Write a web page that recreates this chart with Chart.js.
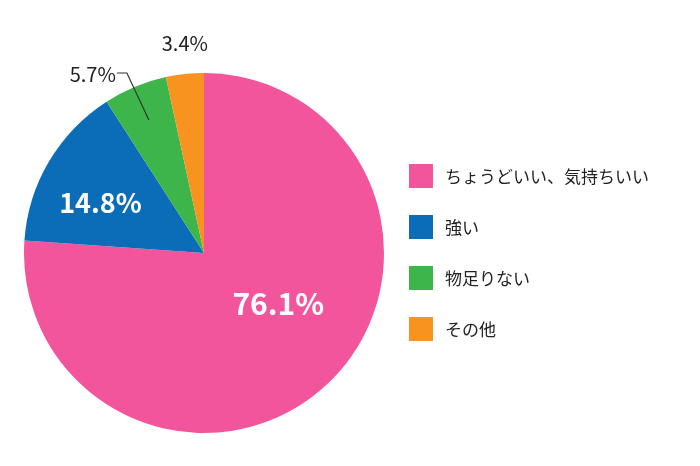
<!DOCTYPE html>
<html><head><meta charset="utf-8">
<script src="https://cdn.jsdelivr.net/npm/chart.js@4"></script>
<style>body{margin:0;background:#fff}#wrap{width:700px;height:466px}</style>
</head><body><div id="wrap"><canvas id="pie"></canvas></div>
<script>
const categories = ['ちょうどいい、気持ちいい', '強い', '物足りない', 'その他'];
const shares = [76.1, 14.8, 5.7, 3.4];
const colors = ['#F2559B', '#0B6DB7', '#3DB54A', '#F7931E'];

const FONT = '"Noto Sans CJK JP", "Noto Sans", sans-serif';

// labels on/around the slices and a hand-drawn legend
const decorate = {
    id: 'decorate',
    afterDraw(chart) {
        const ctx = chart.ctx;
        const arcs = chart.getDatasetMeta(0).data;
        const at = (arc, frac, shift) => {
            const a = (arc.startAngle + arc.endAngle) / 2 + (shift || 0);
            const r = arc.outerRadius * frac;
            return [arc.x + Math.cos(a) * r, arc.y + Math.sin(a) * r];
        };
        ctx.save();
        ctx.textAlign = 'center';
        ctx.textBaseline = 'middle';
        ctx.fillStyle = '#fff';
        ctx.font = 'bold 30px ' + FONT;
        let p = at(arcs[0], 0.5, -0.22);
        ctx.fillText(shares[0] + '%', p[0], p[1]);
        ctx.font = 'bold 27px ' + FONT;
        p = at(arcs[1], 0.64, -0.08);
        ctx.fillText(shares[1] + '%', p[0], p[1]);

        ctx.fillStyle = '#222';
        ctx.font = '20px ' + FONT;
        // green: leader line
        p = at(arcs[2], 0.8);
        ctx.strokeStyle = '#333';
        ctx.lineWidth = 1.2;
        ctx.beginPath();
        ctx.moveTo(p[0], p[1]);
        ctx.lineTo(p[0] - 22, 73);
        ctx.lineTo(p[0] - 32, 73);
        ctx.stroke();
        ctx.textAlign = 'right';
        ctx.fillText(shares[2].toFixed(1) + '%', p[0] - 33, 74);
        // orange: above
        p = at(arcs[3], 1);
        ctx.textAlign = 'center';
        ctx.fillText(shares[3] + '%', p[0], 43);

        // legend
        ctx.textAlign = 'left';
        ctx.font = '17px ' + FONT;
        categories.forEach((c, i) => {
            const y = 176 + i * 51;
            ctx.fillStyle = colors[i];
            ctx.fillRect(409, y - 12, 24, 24);
            ctx.fillStyle = '#222';
            ctx.fillText(c, 445, y + 1);
        });
        ctx.restore();
    }
};

new Chart(document.getElementById('pie'), {
    type: 'pie',
    data: {
        labels: categories,
        datasets: [{
            data: shares,
            backgroundColor: colors,
            borderWidth: 0
        }]
    },
    options: {
        responsive: true,
        maintainAspectRatio: false,
        animation: false,
        layout: { padding: { left: 24, right: 316, top: 73, bottom: 33 } },
        plugins: {
            legend: { display: false },
            tooltip: { enabled: false }
        }
    },
    plugins: [decorate]
});
</script>
</body></html>
